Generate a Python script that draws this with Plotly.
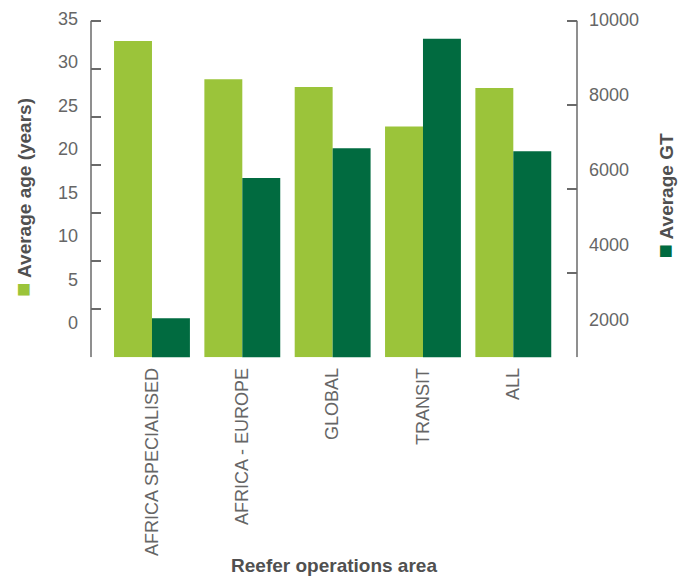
import plotly.graph_objects as go

categories = ["AFRICA SPECIALISED", "AFRICA - EUROPE", "GLOBAL", "TRANSIT", "ALL"]
avg_age = [32.9, 28.9, 28.1, 24.0, 28.0]
avg_gt = [2930, 6260, 6970, 9570, 6900]

age_ticks = [0, 5, 10, 15, 20, 25, 30, 35]
gt_ticks = [2000, 4000, 6000, 8000, 10000]

LIGHT = "#9BC43A"
DARK = "#016B40"
AXIS = "#6a6a6a"
TICKTXT = "#666666"
TITLETXT = "#505050"
FONT = "Liberation Sans"

fig = go.Figure()
fig.add_trace(go.Bar(x=categories, y=avg_age, name="Average age (years)",
                     marker=dict(color=LIGHT, line=dict(width=0)),
                     offsetgroup="1", yaxis="y"))
fig.add_trace(go.Bar(x=categories, y=avg_gt, name="Average GT",
                     marker=dict(color=DARK, line=dict(width=0)),
                     offsetgroup="2", yaxis="y2"))
# invisible helper traces so that the label-only axes are drawn
fig.add_trace(go.Scatter(x=categories, y=[None] * len(categories), yaxis="y3",
                         mode="markers", showlegend=False, hoverinfo="skip"))
fig.add_trace(go.Scatter(x=categories, y=[None] * len(categories), yaxis="y4",
                         mode="markers", showlegend=False, hoverinfo="skip"))

tickfont = dict(family=FONT, size=18, color=TICKTXT)

fig.update_layout(
    width=681, height=569,
    margin=dict(l=83, r=112, t=0, b=207, autoexpand=False),
    paper_bgcolor="white", plot_bgcolor="white",
    showlegend=False,
    barmode="group", bargap=0.16, bargroupgap=0,
    xaxis=dict(type="category", range=[-0.675, 4.705], showline=False, ticks="",
               showgrid=False, zeroline=False, tickangle=-90, tickfont=tickfont,
               ticklabelstandoff=6, anchor="y", automargin=False,
               title=dict(text="Reefer operations area",
                          font=dict(family=FONT, size=19, color=TITLETXT, weight="bold"),
                          standoff=3)),
    yaxis=dict(domain=[0.03508, 1.0], range=[0, 36.321], tickvals=age_ticks,
               showticklabels=False, ticks="inside", ticklen=10, tickwidth=1.5,
               tickcolor=AXIS, showline=False, automargin=False,
               showgrid=False, zeroline=False, anchor="x"),
    yaxis2=dict(overlaying="y", side="right", range=[2000, 10301.8], tickvals=gt_ticks,
                showticklabels=False, ticks="inside", ticklen=10, tickwidth=1.5,
                tickcolor=AXIS, showline=False, automargin=False,
                showgrid=False, zeroline=False, anchor="x"),
    yaxis3=dict(overlaying="y", side="left", range=[-3.94, 36.18], tickvals=age_ticks,
                showline=False, ticks="", showgrid=False, zeroline=False,
                tickfont=tickfont, ticklabelstandoff=12, automargin=False, anchor="x"),
    yaxis4=dict(overlaying="y", side="right", range=[1005.3, 10320], tickvals=gt_ticks,
                ticktext=[str(v) for v in gt_ticks], showline=False, ticks="",
                showgrid=False, zeroline=False, tickfont=tickfont, ticklabelstandoff=11,
                automargin=False, anchor="x"),
)

# axis lines spanning only from the first to the last tick
fig.add_shape(type="line", xref="paper", yref="y", x0=0, x1=0,
              y0=age_ticks[0], y1=age_ticks[-1], line=dict(color=AXIS, width=1.5))
fig.add_shape(type="line", xref="paper", yref="y2", x0=1, x1=1,
              y0=gt_ticks[0], y1=gt_ticks[-1], line=dict(color=AXIS, width=1.5))

fig.add_annotation(
    xref="paper", yref="paper", x=(22 - 91) / 486, y=(370 - 198) / 362,
    xanchor="center", yanchor="middle", textangle=-90, showarrow=False,
    text=f'<span style="color:{LIGHT};font-size:24px">■</span> Average age (years)',
    font=dict(family=FONT, size=19, color=TITLETXT, weight="bold"))
fig.add_annotation(
    xref="paper", yref="paper", x=(664 - 91) / 486, y=(370 - 196.5) / 362,
    xanchor="center", yanchor="middle", textangle=-90, showarrow=False,
    text=f'<span style="color:{DARK};font-size:24px">■</span> Average GT',
    font=dict(family=FONT, size=19, color=TITLETXT, weight="bold"))

fig.write_html("out.html")
